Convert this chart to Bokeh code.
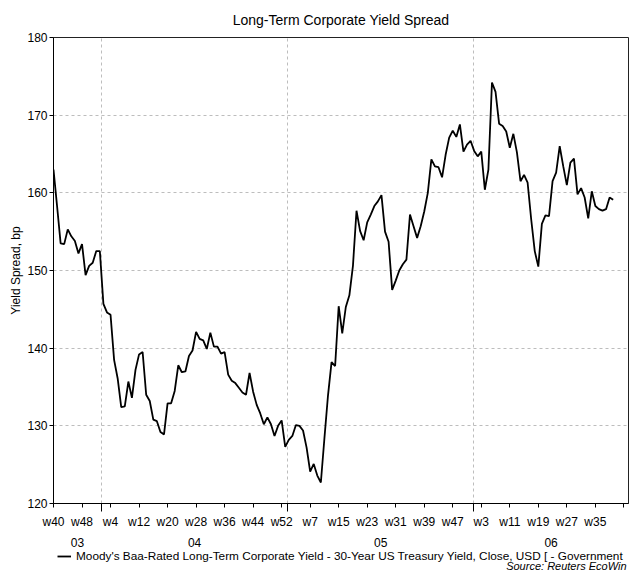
from bokeh.plotting import figure
from bokeh.layouts import column
from bokeh.models import (Range1d, FixedTicker, Legend, LegendItem, LinearAxis,
                          Label)
from bokeh.embed import file_html
from bokeh.resources import INLINE

# Weekly spread, bp (first point = week 40 of 2003)
spread = [
    163.0, 158.3, 153.5, 153.4, 155.3, 154.4, 153.8, 152.2, 153.4, 149.4,
    150.6, 151.0, 152.5, 152.5, 145.7, 144.6, 144.3, 138.5, 136.1, 132.4,
    132.5, 135.7, 133.6, 137.2, 139.2, 139.5, 134.0, 133.2, 130.8, 130.6,
    129.2, 128.9, 132.9, 132.9, 134.5, 137.8, 136.9, 137.0, 139.0, 139.7,
    142.1, 141.2, 141.0, 139.9, 142.0, 140.2, 140.2, 139.3, 139.5, 136.6,
    135.8, 135.5, 134.9, 134.3, 134.0, 136.8, 134.4, 132.7, 131.6, 130.2,
    131.1, 130.2, 128.7, 130.0, 130.7, 127.3, 128.2, 128.7, 130.1, 130.0,
    129.4, 127.2, 124.1, 125.1, 123.6, 122.7, 128.4, 133.9, 138.2, 137.7,
    145.4, 141.9, 145.3, 146.8, 150.6, 157.7, 155.1, 153.9, 156.2, 157.2,
    158.3, 158.9, 159.7, 155.0, 153.7, 147.5, 148.7, 150.0, 150.8, 151.4,
    157.2, 155.7, 154.2, 155.7, 157.6, 160.0, 164.3, 163.4, 163.3, 162.0,
    164.9, 167.1, 168.0, 167.2, 168.8, 165.3, 166.2, 166.7, 165.4, 164.7,
    165.3, 160.4, 163.0, 174.2, 173.0, 168.9, 168.6, 167.9, 165.8, 167.6,
    165.2, 161.5, 162.3, 161.3, 156.6, 152.5, 150.5, 156.0, 157.1, 157.0,
    161.5, 162.6, 166.0, 163.4, 161.0, 163.9, 164.4, 159.8, 160.6, 159.4,
    156.7, 160.2, 158.3, 157.9, 157.7, 157.9, 159.4, 159.1,
]
weeks = list(range(len(spread)))

week_ticks = list(range(0, 161, 8))
week_labels = ["w40", "w48", "w4", "w12", "w20", "w28", "w36", "w44", "w52",
               "w7", "w15", "w23", "w31", "w39", "w47", "w3", "w11", "w19",
               "w27", "w35", ""]
year_starts = [13.43, 65.71, 117.86]   # 1 Jan 2004/2005/2006 in weeks
year_labels = ["03", "04", "05", "06"]
y_ticks = [120, 130, 140, 150, 160, 170, 180]

title_text = "Long-Term Corporate Yield Spread"
y_label = "Yield Spread, bp"
legend_text = ("Moody's Baa-Rated Long-Term Corporate Yield - 30-Year US "
               "Treasury Yield, Close, USD [ - Government")
source_text = "Source: Reuters EcoWin"

FONT = "Liberation Sans"
X0, X1 = 0, 161.3
Y0, Y1 = 120, 180
W = 631
MAIN_H, FOOT_H = 549, 22
LINE_STYLE = dict(line_color="black", line_width=1.8)

p = figure(width=W, height=MAIN_H, output_backend="svg", toolbar_location=None,
           x_range=Range1d(X0, X1), y_range=Range1d(Y0, Y1),
           min_border_left=53, min_border_right=3,
           min_border_top=37, min_border_bottom=43)
p.outline_line_color = "#222222"
p.outline_line_width = 1
p.background_fill_color = "white"
p.border_fill_color = "white"

# title
p.title.text = title_text
p.title.align = "center"
p.title.text_font = FONT
p.title.text_font_size = "14px"
p.title.text_font_style = "normal"
p.title.text_color = "black"
p.title.standoff = 19

r = p.line(weeks, spread, **LINE_STYLE)

# x axis (weeks)
p.xaxis.ticker = FixedTicker(ticks=week_ticks, minor_ticks=year_starts)
p.xaxis.major_label_overrides = {t: l for t, l in zip(week_ticks, week_labels)}
p.xaxis.major_tick_out = 4
p.xaxis.major_tick_in = 0
p.xaxis.minor_tick_out = 8
p.xaxis.minor_tick_in = 0
p.xaxis.major_label_standoff = 3
p.xaxis.major_label_text_font = FONT
p.xaxis.major_label_text_font_size = "12px"
p.xaxis.major_label_text_color = "black"
p.xaxis.axis_line_color = "black"
p.xaxis.major_tick_line_color = "black"
p.xaxis.minor_tick_line_color = "black"

# second x axis: years, centred on visible part of each year
bounds = [X0] + year_starts + [X1]
year_centers = [(bounds[i] + bounds[i + 1]) / 2 for i in range(len(year_labels))]
year_axis = LinearAxis(ticker=FixedTicker(ticks=year_centers),
                       major_label_overrides={c: l for c, l in zip(year_centers, year_labels)},
                       axis_line_color=None, major_tick_line_color=None,
                       minor_tick_line_color=None, major_tick_out=0,
                       major_tick_in=0, minor_tick_out=0, minor_tick_in=0,
                       major_label_standoff=6, major_label_text_font=FONT,
                       major_label_text_font_size="12px",
                       major_label_text_color="black")
p.add_layout(year_axis, "below")

# y axis
p.yaxis.ticker = FixedTicker(ticks=y_ticks)
p.yaxis.major_tick_out = 4
p.yaxis.major_tick_in = 0
p.yaxis.minor_tick_line_color = None
p.yaxis.major_label_standoff = 2
p.yaxis.major_label_text_font = FONT
p.yaxis.major_label_text_font_size = "12px"
p.yaxis.major_label_text_color = "black"
p.yaxis.axis_line_color = "black"
p.yaxis.major_tick_line_color = "black"
p.yaxis.axis_label = y_label
p.yaxis.axis_label_text_font = FONT
p.yaxis.axis_label_text_font_size = "12px"
p.yaxis.axis_label_text_font_style = "normal"
p.yaxis.axis_label_text_color = "black"
p.yaxis.axis_label_standoff = 1

# grids
p.xgrid.ticker = FixedTicker(ticks=year_starts)
p.ygrid.ticker = FixedTicker(ticks=y_ticks)
for g in (p.xgrid, p.ygrid):
    g.grid_line_color = "#bdbdbd"
    g.grid_line_dash = "3 3"
    g.grid_line_width = 1

# footer: legend + source (the series is drawn here too, outside the footer's
# visible range, so the legend swatch uses the same line)
foot = figure(width=W, height=FOOT_H, output_backend="svg", toolbar_location=None,
              x_range=Range1d(X0, X1), y_range=Range1d(0, 1),
              x_axis_type=None, y_axis_type=None,
              min_border_left=53, min_border_right=3,
              min_border_top=0, min_border_bottom=0)
foot.title.visible = False
foot.grid.visible = False
foot.outline_line_color = None
foot.background_fill_color = "white"
foot.border_fill_color = "white"
swatch = foot.line(weeks, spread, **LINE_STYLE)

legend = Legend(items=[LegendItem(label=legend_text, renderers=[swatch])],
                location=(4, 8), padding=0, margin=0, spacing=0,
                glyph_width=14, glyph_height=14, label_height=14,
                label_standoff=5, label_text_font=FONT,
                label_text_font_size="11.8px", label_text_color="black",
                border_line_color=None, background_fill_alpha=0)
foot.add_layout(legend)
foot.add_layout(Label(x=X1, y=0, x_offset=-2, text=source_text,
                      text_align="right", text_baseline="bottom",
                      text_font=FONT, text_font_size="11px",
                      text_font_style="italic", text_color="black"))

layout = column(p, foot, spacing=0)
open("out.html", "w").write(file_html(layout, INLINE))
